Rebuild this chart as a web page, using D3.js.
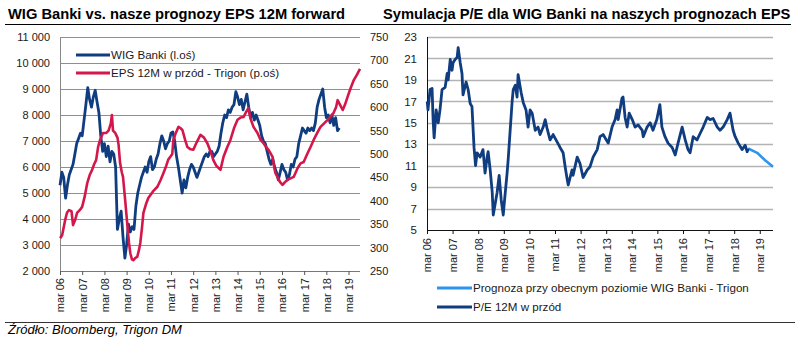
<!DOCTYPE html>
<html><head><meta charset="utf-8">
<script src="https://cdn.jsdelivr.net/npm/d3@7"></script>
<style>
body{margin:0;background:#fff;}
svg{display:block;font-family:"Liberation Sans",Arial,sans-serif;}
</style></head><body>
<svg id="c" width="800" height="340"></svg>
<script>
// ---------------- DATA ----------------
const titleLeft = "WIG Banki vs. nasze prognozy EPS 12M forward";
const titleRight = "Symulacja P/E dla WIG Banki na naszych prognozach EPS";
const sourceText = "Źródło: Bloomberg, Trigon DM";
const xTickYears = [2006,2007,2008,2009,2010,2011,2012,2013,2014,2015,2016,2017,2018,2019];
const xTickLabels = ["mar 06","mar 07","mar 08","mar 09","mar 10","mar 11","mar 12","mar 13","mar 14","mar 15","mar 16","mar 17","mar 18","mar 19"];
const wigTicks = [2000,3000,4000,5000,6000,7000,8000,9000,10000,11000];
const epsTicks = [250,300,350,400,450,500,550,600,650,700,750];
const peTicks = [5,7,9,11,13,15,17,19,21,23];
const legendLeft = ["WIG Banki (l.oś)","EPS 12M w przód - Trigon (p.oś)"];
const legendRight = ["Prognoza przy obecnym poziomie WIG Banki - Trigon","P/E 12M w przód"];

// WIG Banki, monthly from 2006-03 to 2018-10
const wigStart = [2006, 3];
const wigValues = [
  5300,5800,5600,4800,5300,5700,5900,6100,6500,6900,
  7100,7300,7200,7800,8400,9050,8600,8300,8700,8950,8500,8100,
  7200,6600,6900,6400,6800,6200,6600,6500,6000,3600,4000,4300,
  3300,2500,3000,3800,3500,3700,3600,4500,5000,5300,5600,5800,
  6000,5800,6200,6400,5900,6000,6300,6500,6900,7200,7000,6700,
  6900,7000,7300,7350,7000,6400,6000,5500,5000,5500,5200,5600,
  5900,6100,6000,5800,5600,5800,6000,6200,6400,6500,6400,6600,
  6600,6400,6500,6600,6800,7300,7700,8000,7900,8200,8100,8300,
  8400,8900,8700,8400,8600,8200,8500,8800,8300,7900,8100,7800,
  8000,7800,7600,7200,7000,6900,6600,6300,6100,6300,6000,5800,
  5500,5800,6100,5900,5800,5500,5700,6100,6000,6300,6400,6900,
  7200,7500,7400,7300,7500,7400,7500,7400,7700,8300,8600,8800,
  9000,8300,7900,8000,7700,8000,7600,7900,7400,7500
];

// EPS 12M forward (decimal year, value)
const epsYears = [2006.17,2006.26,2006.40,2006.48,2006.57,2006.68,2006.75,2006.85,2006.93,2007.05,2007.16,2007.28,2007.39,2007.50,2007.61,2007.70,2007.79,2007.88,2007.97,2008.10,2008.25,2008.35,2008.45,2008.50,2008.55,2008.65,2008.75,2008.80,2008.87,2008.95,2009.00,2009.10,2009.19,2009.27,2009.33,2009.40,2009.47,2009.56,2009.64,2009.72,2009.78,2009.85,2009.92,2010.03,2010.14,2010.35,2010.55,2010.70,2010.82,2010.95,2011.04,2011.15,2011.22,2011.27,2011.38,2011.50,2011.60,2011.68,2011.80,2011.90,2012.05,2012.17,2012.32,2012.49,2012.65,2012.80,2012.95,2013.07,2013.20,2013.39,2013.53,2013.70,2013.84,2014.00,2014.16,2014.30,2014.43,2014.55,2014.65,2014.75,2014.88,2015.06,2015.20,2015.33,2015.45,2015.56,2015.74,2015.82,2015.87,2015.96,2016.08,2016.19,2016.30,2016.41,2016.55,2016.69,2016.87,2017.00,2017.14,2017.32,2017.45,2017.59,2017.75,2017.90,2018.05,2018.22,2018.35,2018.49,2018.60,2018.67,2018.78,2018.90,2019.00,2019.12,2019.25,2019.40,2019.55,2019.68];
const epsValues = [320,327,360,375,380,378,348,360,374,380,387,410,438,455,466,478,487,515,530,545,545,550,565,583,550,545,535,520,480,460,451,400,352,310,288,275,273,278,280,295,310,340,374,392,406,420,430,445,459,475,488,495,500,530,545,558,555,551,530,515,510,509,525,541,535,523,505,487,475,466,494,515,530,555,573,578,579,590,598,575,558,545,530,523,515,509,494,470,459,451,440,434,440,445,448,451,470,480,483,502,515,530,545,558,565,573,580,588,600,615,605,594,605,622,640,658,670,682];

// P/E 12M forward (decimal year, value)
const peYears = [2006.17,2006.20,2006.28,2006.36,2006.40,2006.44,2006.52,2006.60,2006.67,2006.75,2006.87,2006.95,2006.99,2007.07,2007.14,2007.18,2007.26,2007.34,2007.38,2007.46,2007.53,2007.57,2007.69,2007.77,2007.85,2007.92,2008.00,2008.06,2008.12,2008.24,2008.35,2008.43,2008.51,2008.55,2008.63,2008.71,2008.75,2008.90,2008.98,2009.06,2009.14,2009.18,2009.29,2009.33,2009.41,2009.49,2009.53,2009.61,2009.68,2009.72,2009.84,2009.92,2010.03,2010.11,2010.19,2010.27,2010.39,2010.50,2010.58,2010.70,2010.78,2010.85,2010.97,2011.09,2011.25,2011.36,2011.48,2011.56,2011.64,2011.68,2011.83,2011.87,2012.03,2012.14,2012.26,2012.42,2012.53,2012.65,2012.81,2012.92,2013.04,2013.24,2013.39,2013.51,2013.59,2013.63,2013.78,2013.82,2013.90,2013.98,2014.06,2014.18,2014.29,2014.41,2014.57,2014.61,2014.76,2014.88,2014.99,2015.14,2015.26,2015.34,2015.46,2015.58,2015.74,2015.86,2015.97,2016.13,2016.25,2016.36,2016.44,2016.56,2016.71,2016.83,2016.95,2017.11,2017.22,2017.34,2017.50,2017.61,2017.73,2017.89,2018.00,2018.12,2018.20,2018.32,2018.47,2018.59,2018.67,2018.71];
const peValues = [17.0,16.2,18.1,18.2,15.3,13.6,16.2,15.0,16.2,18.1,18.3,19.6,19.0,20.9,19.9,20.6,20.9,21.1,22.0,20.6,19.6,17.6,18.8,18.1,16.8,16.5,12.7,11.0,12.2,11.8,12.5,10.3,11.8,12.3,10.6,8.5,6.4,8.5,10.1,7.8,6.4,7.5,10.3,11.5,14.3,17.1,18.1,18.5,17.4,19.5,17.8,16.9,16.2,14.6,16.2,15.9,14.3,14.6,13.9,14.6,15.3,14.5,13.4,13.9,13.2,12.7,12.2,10.9,9.7,9.2,10.6,10.1,11.8,11.2,9.9,10.6,10.9,11.8,12.5,13.7,13.9,13.1,14.6,15.3,16.2,15.3,17.3,17.4,15.5,14.6,15.9,15.3,14.6,14.8,14.3,13.7,14.6,15.0,14.3,15.3,16.7,14.6,13.7,13.1,12.7,12.0,13.1,14.6,13.4,12.5,12.2,13.7,13.4,14.0,14.6,15.5,15.3,15.4,14.6,14.3,14.6,15.3,15.9,14.3,13.7,13.1,12.5,12.9,12.3,12.6];

// P/E forecast at current WIG Banki level
const fcYears = [2018.71,2019.06,2019.37,2019.68];
const fcValues = [12.6,12.2,11.5,10.9];

// ---------------- HELPERS ----------------
function decToDate(t){
  const y = Math.floor(t);
  const s = new Date(y,0,1).getTime(), e = new Date(y+1,0,1).getTime();
  return new Date(s + (t-y)*(e-s));
}
const spaceFmt = v => d3.format(",")(v).replace(/,/g," ");
const dateStart = new Date(2006,2,1);
const dateEnd = new Date(2019,8,6);
const tickDates = xTickYears.map(y => new Date(y,2,1));

const wigData = wigValues.map((v,i)=>({d:d3.timeMonth.offset(new Date(wigStart[0],wigStart[1]-1,1),i), v}));
const epsData = epsYears.map((t,i)=>({d:decToDate(t), v:epsValues[i]}));
const peData = peYears.map((t,i)=>({d:decToDate(t), v:peValues[i]}));
const fcData = fcYears.map((t,i)=>({d:decToDate(t), v:fcValues[i]}));

const C_BLUE = "#0f3d80", C_RED = "#d4174a", C_LBLUE = "#2e95ee", TXT = "#1a1a1a";
const svg = d3.select("#c");

// titles & rules
svg.append("text").attr("x",8).attr("y",19).attr("font-size",14.7).attr("font-weight","bold").attr("fill","#000").text(titleLeft);
svg.append("text").attr("x",383).attr("y",19).attr("font-size",14.7).attr("font-weight","bold").attr("fill","#000").text(titleRight);
svg.append("line").attr("x1",5).attr("x2",791).attr("y1",24.5).attr("y2",24.5).attr("stroke","#000").attr("stroke-width",1);
svg.append("line").attr("x1",5).attr("x2",795).attr("y1",322.5).attr("y2",322.5).attr("stroke","#333").attr("stroke-width",1);
svg.append("text").attr("x",8).attr("y",334).attr("font-size",13).attr("font-style","italic").attr("fill","#000").text(sourceText);

function styleXAxis(g, rotGap){
  g.select(".domain").remove();
  g.selectAll(".tick line").attr("stroke","#555");
  g.selectAll(".tick text").attr("transform","rotate(-90)").attr("text-anchor","end")
   .attr("x",-rotGap).attr("y",0).attr("dy","0.35em").attr("font-size",11).attr("fill",TXT).attr("font-family",null);
}

// ---------------- LEFT CHART ----------------
{
  const L = {x0:60, x1:360, y0:37, y1:271};
  const x = d3.scaleTime().domain([dateStart,dateEnd]).range([L.x0,L.x1]);
  const yL = d3.scaleLinear().domain([2000,11000]).range([L.y1,L.y0]);
  const yR = d3.scaleLinear().domain([250,750]).range([L.y1,L.y0]);
  const g = svg.append("g");
  g.selectAll("line.grid").data(wigTicks.slice(1)).join("line")
    .attr("x1",L.x0).attr("x2",L.x1).attr("y1",d=>Math.round(yL(d))+0.5).attr("y2",d=>Math.round(yL(d))+0.5)
    .attr("stroke","#8f8f8f").attr("stroke-width",1);
  g.append("line").attr("x1",L.x0+0.5).attr("x2",L.x0+0.5).attr("y1",L.y0).attr("y2",L.y1).attr("stroke","#888");
  g.append("line").attr("x1",L.x0).attr("x2",L.x1).attr("y1",L.y1+0.5).attr("y2",L.y1+0.5).attr("stroke","#777");
  const ax = g.append("g").attr("transform",`translate(0,${L.y1})`)
    .call(d3.axisBottom(x).tickValues(tickDates).tickFormat((d,i)=>xTickLabels[i]).tickSize(4));
  styleXAxis(ax, 7);
  const al = g.append("g").attr("transform",`translate(${L.x0},0)`)
    .call(d3.axisLeft(yL).tickValues(wigTicks).tickFormat(spaceFmt).tickSizeInner(0).tickSizeOuter(0).tickPadding(10));
  al.select(".domain").remove();
  al.selectAll("text").attr("font-size",11).attr("fill",TXT).attr("font-family",null);
  const ar = g.append("g").attr("transform",`translate(${L.x1},0)`)
    .call(d3.axisRight(yR).tickValues(epsTicks).tickSizeInner(0).tickSizeOuter(0).tickPadding(10));
  ar.select(".domain").remove();
  ar.selectAll("line").remove();
  ar.selectAll("text").attr("font-size",11).attr("fill",TXT).attr("font-family",null);
  g.append("path").datum(wigData).attr("fill","none").attr("stroke",C_BLUE).attr("stroke-width",2.8)
    .attr("stroke-linejoin","round").attr("d",d3.line().x(d=>x(d.d)).y(d=>yL(d.v)));
  g.append("path").datum(epsData).attr("fill","none").attr("stroke",C_RED).attr("stroke-width",2.6)
    .attr("stroke-linejoin","round").attr("d",d3.line().x(d=>x(d.d)).y(d=>yR(d.v)));
  const lg = [[C_BLUE,55],[C_RED,73]];
  lg.forEach((l,i)=>{
    g.append("line").attr("x1",76).attr("x2",110).attr("y1",l[1]).attr("y2",l[1]).attr("stroke",l[0]).attr("stroke-width",3);
    g.append("text").attr("x",111).attr("y",l[1]).attr("dy","0.35em").attr("font-size",11.6).attr("fill",TXT).text(legendLeft[i]);
  });
}

// ---------------- RIGHT CHART ----------------
{
  const R = {x0:427, x1:773, y0:37, y1:230};
  const x = d3.scaleTime().domain([dateStart,dateEnd]).range([R.x0,R.x1]);
  const y = d3.scaleLinear().domain([5,23]).range([R.y1,R.y0]);
  const g = svg.append("g");
  g.selectAll("line.grid").data(peTicks.slice(1)).join("line")
    .attr("x1",R.x0).attr("x2",R.x1).attr("y1",d=>Math.round(y(d))+0.5).attr("y2",d=>Math.round(y(d))+0.5)
    .attr("stroke","#b3b3b3").attr("stroke-width",1.5);
  g.append("line").attr("x1",R.x0+0.5).attr("x2",R.x0+0.5).attr("y1",R.y0).attr("y2",R.y1).attr("stroke","#111");
  g.append("line").attr("x1",R.x0).attr("x2",R.x1).attr("y1",R.y1+0.5).attr("y2",R.y1+0.5).attr("stroke","#111");
  const ax = g.append("g").attr("transform",`translate(0,${R.y1})`)
    .call(d3.axisBottom(x).tickValues(tickDates).tickFormat((d,i)=>xTickLabels[i]).tickSize(4));
  styleXAxis(ax, 8);
  ax.selectAll(".tick line").attr("stroke","#111");
  const al = g.append("g").attr("transform",`translate(${R.x0},0)`)
    .call(d3.axisLeft(y).tickValues(peTicks).tickSizeInner(0).tickSizeOuter(0).tickPadding(10));
  al.select(".domain").remove();
  al.selectAll("line").remove();
  al.selectAll("text").attr("font-size",11.5).attr("fill",TXT).attr("font-family",null);
  g.append("path").datum(fcData).attr("fill","none").attr("stroke",C_LBLUE).attr("stroke-width",2.6)
    .attr("stroke-linejoin","round").attr("d",d3.line().x(d=>x(d.d)).y(d=>y(d.v)));
  g.append("path").datum(peData).attr("fill","none").attr("stroke",C_BLUE).attr("stroke-width",2.8)
    .attr("stroke-linejoin","round").attr("d",d3.line().x(d=>x(d.d)).y(d=>y(d.v)));
  const lg = [[C_LBLUE,288],[C_BLUE,307]];
  lg.forEach((l,i)=>{
    g.append("line").attr("x1",437).attr("x2",472).attr("y1",l[1]).attr("y2",l[1]).attr("stroke",l[0]).attr("stroke-width",3);
    g.append("text").attr("x",473).attr("y",l[1]).attr("dy","0.35em").attr("font-size",11.6).attr("fill",TXT).text(legendRight[i]);
  });
}
</script>
</body></html>
